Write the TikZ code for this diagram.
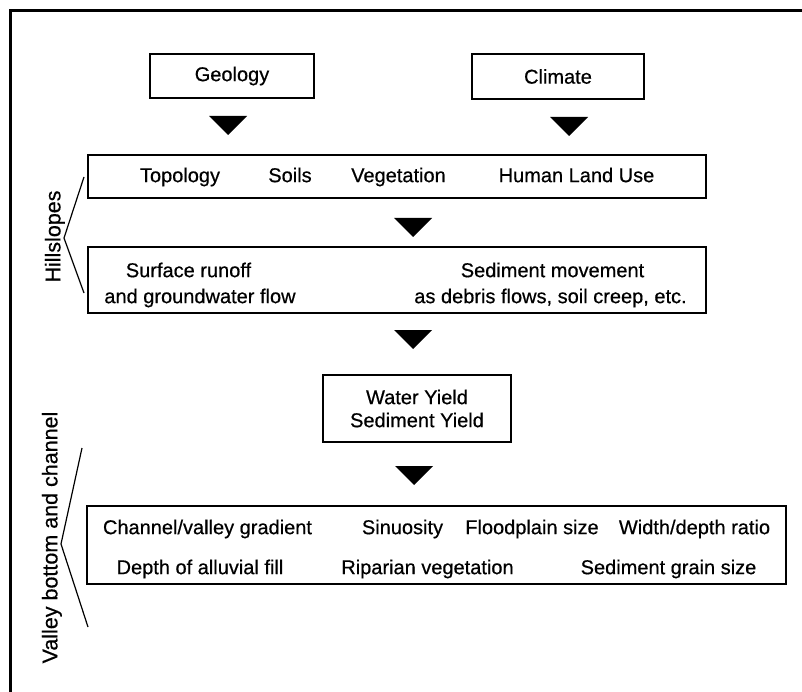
\documentclass[tikz,border=0pt]{standalone}
\usepackage{fontspec}
\setmainfont{Liberation Sans}
\newfontfamily\scanfont[FakeBold=0.5]{Liberation Sans}
\begin{document}
\begin{tikzpicture}[x=1pt,y=-1pt,
  box/.style={draw, line width=1.8pt, inner sep=0pt, align=center,
    font=\scanfont\fontsize{20}{23}\selectfont},
  txt/.style={inner sep=0pt, text height=14.3pt, text depth=0pt,
    font=\scanfont\fontsize{20}{23}\selectfont},
  side/.style={inner sep=0pt, text height=15.4pt, text depth=0pt, rotate=90,
    font=\scanfont\fontsize{21.5}{25}\selectfont},
  brace/.style={line width=1.2pt},
  frameline/.style={line width=3pt},
  tri/.style={fill=black}]
\useasboundingbox[fill=white] (0,0) rectangle (802,692);

% frame (top and left edges)
\coordinate (f1) at (10,692);
\coordinate (f2) at (10,11);
\coordinate (f3) at (802,11);
\draw[frameline] (f1) -- (f2) -- (f3);

% boxes
\node[box, minimum width=164pt, minimum height=44pt] (geo) at (232,76) {Geology};
\node[box, minimum width=172pt, minimum height=45pt] (cli) at (558,76.5) {Climate};
\node[box, minimum width=618pt, minimum height=43pt] (fac) at (397,176.5) {};
\node[box, minimum width=618pt, minimum height=66pt] (pro) at (397,280) {};
\node[box, minimum width=188pt, minimum height=67pt] (yld) at (417,408.5) {Water Yield\\Sediment Yield};
\node[box, minimum width=699pt, minimum height=78pt] (chn) at (436.5,545) {};

% texts in the factors box
\node[txt] (t1) at (180,175) {Topology};
\node[txt] (t2) at (290,175) {Soils};
\node[txt] (t3) at (398.5,175) {Vegetation};
\node[txt] (t4) at (576.5,175) {Human Land Use};

% texts in the processes box
\node[txt] (p1) at (188.5,270) {Surface runoff};
\node[txt] (p2) at (200,296) {and groundwater flow};
\node[txt] (p3) at (552.5,270) {Sediment movement};
\node[txt] (p4) at (550.5,296) {as debris flows, soil creep, etc.};

% texts in the channel box
\node[txt] (c1) at (207.5,527) {Channel/valley gradient};
\node[txt] (c2) at (402.5,527) {Sinuosity};
\node[txt] (c3) at (532,527) {Floodplain size};
\node[txt] (c4) at (694.5,527) {Width/depth ratio};
\node[txt] (c5) at (200,567) {Depth of alluvial fill};
\node[txt] (c6) at (427.5,567) {Riparian vegetation};
\node[txt] (c7) at (668.5,567) {Sediment grain size};

% arrow heads (filled triangles)
\coordinate (a1) at (228,116);
\coordinate (a2) at (569,117);
\coordinate (a3) at (413,218);
\coordinate (a4) at (413,330);
\coordinate (a5) at (414,466);
\foreach \a in {a1,a2,a3,a4,a5}
  \fill[tri] (\a) ++(-19,0) -- ++(38,0) -- ++(-19,19) -- cycle;

% side labels with braces
\node[side] (hs) at (52.7,236.5) {Hillslopes};
\node[side] (vb) at (49.7,537.5) {Valley bottom and channel};

\coordinate (h0) at (64,238);
\coordinate (h1) at (84,177);
\coordinate (h2) at (84,293);
\draw[brace] (h1) -- (h0) -- (h2);

\coordinate (v0) at (61,544);
\coordinate (v1) at (82,448);
\coordinate (v2) at (88,627);
\draw[brace] (v1) -- (v0) -- (v2);
\end{tikzpicture}
\end{document}
